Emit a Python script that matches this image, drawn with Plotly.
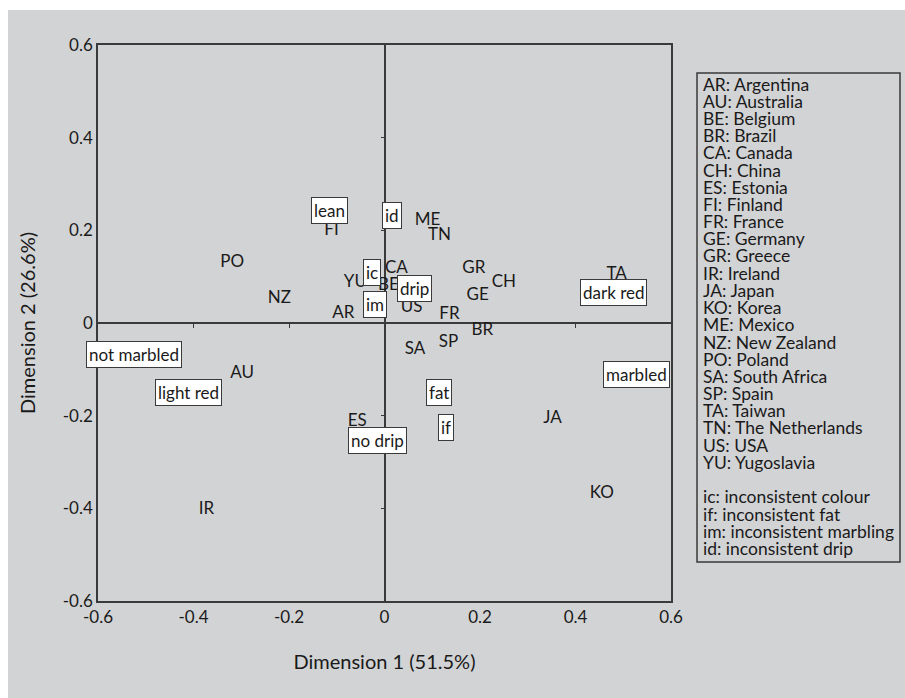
import plotly.graph_objects as go

# ---------------- data ----------------
country_codes = ["AR", "AU", "BE", "BR", "CA", "CH", "ES", "FI", "FR", "GE", "GR", "IR",
                 "JA", "KO", "ME", "NZ", "PO", "SA", "SP", "TA", "TN", "US", "YU"]
country_x = [-0.086, -0.298, 0.008, 0.205, 0.025, 0.250, -0.057, -0.111, 0.136, 0.195, 0.187, -0.373,
             0.352, 0.455, 0.090, -0.220, -0.319, 0.064, 0.134, 0.486, 0.115, 0.057, -0.061]
country_y = [0.021, -0.110, 0.080, -0.017, 0.118, 0.086, -0.213, 0.200, 0.017, 0.058, 0.118, -0.404,
             -0.206, -0.368, 0.221, 0.052, 0.129, -0.058, -0.043, 0.105, 0.189, 0.032, 0.086]

attr_labels = ["lean", "id", "ic", "im", "drip", "dark red", "marbled", "fat", "if",
               "not marbled", "light red", "no drip"]
attr_x = [-0.115, 0.015, -0.027, -0.020, 0.063, 0.480, 0.527, 0.114, 0.128, -0.524, -0.411, -0.015]
attr_y = [0.243, 0.232, 0.108, 0.041, 0.075, 0.065, -0.112, -0.151, -0.226, -0.069, -0.151, -0.254]

legend_lines = ["AR: Argentina", "AU: Australia", "BE: Belgium", "BR: Brazil", "CA: Canada",
                "CH: China", "ES: Estonia", "FI: Finland", "FR: France", "GE: Germany",
                "GR: Greece", "IR: Ireland", "JA: Japan", "KO: Korea", "ME: Mexico",
                "NZ: New Zealand", "PO: Poland", "SA: South Africa", "SP: Spain", "TA: Taiwan",
                "TN: The Netherlands", "US: USA", "YU: Yugoslavia", "",
                "ic: inconsistent colour", "if: inconsistent fat", "im: inconsistent marbling",
                "id: inconsistent drip"]

tick_vals = [-0.6, -0.4, -0.2, 0, 0.2, 0.4, 0.6]
tick_text = ["-0.6", "-0.4", "-0.2", "0", "0.2", "0.4", "0.6"]
inner_ticks = [-0.4, -0.2, 0.2, 0.4]

x_title = "Dimension 1 (51.5%)"
y_title = "Dimension 2 (26.6%)"

# ---------------- style ----------------
FONT = "Lato, 'Open Sans', sans-serif"
FS = 17
FS_LEG = 17.5
FS_TITLE = 20
TXT = "#1a1a1a"
LINE = "#3a3a3a"
BG = "#d2d3d5"

W, H = 905, 698
L, R, T, B = 98, 234, 45, 97
PW, PH = W - L - R, H - T - B


def px_to_paper_x(px):
    return (px - L) / PW


def px_to_paper_y(py):
    return (H - B - py) / PH


fig = go.Figure()

fig.add_trace(go.Scatter(
    x=country_x, y=country_y, mode="text", text=country_codes,
    textposition="middle center",
    textfont=dict(family=FONT, size=FS, color=TXT),
    hoverinfo="skip", showlegend=False, cliponaxis=False,
))

# invisible trace for inner tick axes
fig.add_trace(go.Scatter(x=[0], y=[0], xaxis="x2", yaxis="y2", mode="markers",
                         marker=dict(opacity=0), hoverinfo="skip", showlegend=False))

annotations = []
for lab, ax_, ay_ in zip(attr_labels, attr_x, attr_y):
    annotations.append(dict(
        x=ax_, y=ay_, xref="x", yref="y", text=lab, showarrow=False,
        xanchor="center", yanchor="middle",
        font=dict(family=FONT, size=FS, color=TXT),
        bgcolor="white", bordercolor=LINE, borderwidth=1, borderpad=2,
    ))

# legend box text lines
leg_top_px, leg_step = 84, 17.2
for i, line in enumerate(legend_lines):
    if not line:
        continue
    annotations.append(dict(
        x=px_to_paper_x(701), y=px_to_paper_y(leg_top_px + i * leg_step),
        xref="paper", yref="paper", text=line, showarrow=False,
        xanchor="left", yanchor="middle",
        font=dict(family=FONT, size=FS_LEG, color=TXT),
    ))

shapes = [
    # gray background panel
    dict(type="rect", xref="paper", yref="paper", layer="below",
         x0=px_to_paper_x(8), x1=px_to_paper_x(W + 5),
         y0=px_to_paper_y(H + 5), y1=px_to_paper_y(10),
         fillcolor=BG, line=dict(width=0)),
    # legend frame
    dict(type="rect", xref="paper", yref="paper",
         x0=px_to_paper_x(697), x1=px_to_paper_x(900),
         y0=px_to_paper_y(562), y1=px_to_paper_y(73),
         fillcolor="rgba(0,0,0,0)", line=dict(color=LINE, width=1.5)),
]

axis_common = dict(
    range=[-0.6, 0.6], tickvals=tick_vals, ticktext=tick_text, ticks="",
    showgrid=False, zeroline=True, zerolinecolor=LINE, zerolinewidth=1.5,
    showline=True, linecolor=LINE, linewidth=1.5, mirror=True,
    tickfont=dict(family=FONT, size=FS, color=TXT), fixedrange=True,
)

fig.update_layout(
    width=W, height=H, margin=dict(l=L, r=R, t=T, b=B),
    paper_bgcolor="white", plot_bgcolor=BG,
    font=dict(family=FONT, size=FS, color=TXT),
    xaxis=dict(**axis_common, title=dict(text=x_title, font=dict(family=FONT, size=FS_TITLE, color=TXT), standoff=29)),
    yaxis=dict(**axis_common, title=dict(text=y_title, font=dict(family=FONT, size=FS_TITLE, color=TXT), standoff=22)),
    xaxis2=dict(overlaying="x", anchor="free", position=0.5, range=[-0.6, 0.6],
                tickvals=inner_ticks, ticks="outside", ticklen=4, tickcolor=LINE, tickwidth=1,
                showticklabels=False, showgrid=False, zeroline=False, showline=False, fixedrange=True),
    yaxis2=dict(overlaying="y", anchor="free", position=0.5, range=[-0.6, 0.6],
                tickvals=inner_ticks, ticks="outside", ticklen=4, tickcolor=LINE, tickwidth=1,
                showticklabels=False, showgrid=False, zeroline=False, showline=False, fixedrange=True),
    annotations=annotations, shapes=shapes, showlegend=False,
)

fig.write_html("out.html")
